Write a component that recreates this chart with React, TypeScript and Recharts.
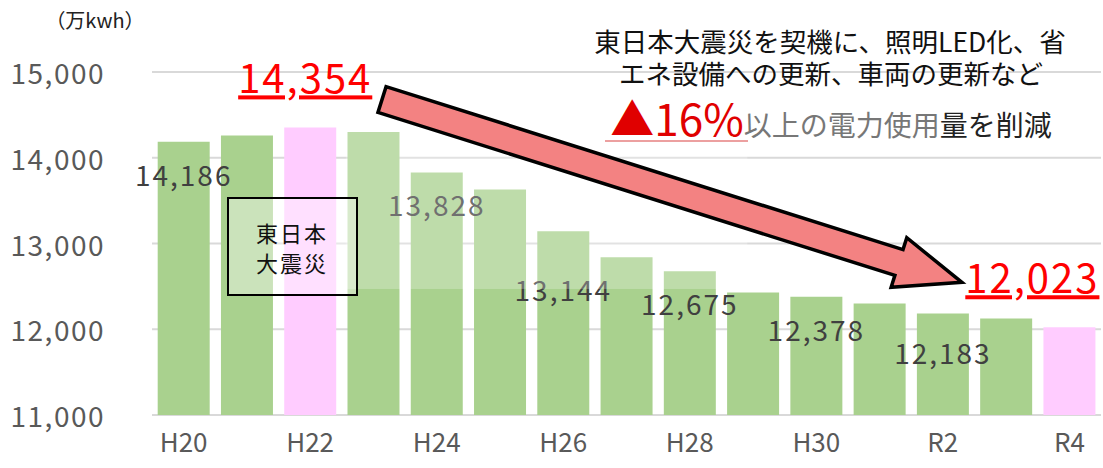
import React from 'react';
import { BarChart, Bar, XAxis, YAxis, CartesianGrid, Cell, LabelList, ReferenceLine, ReferenceArea } from 'recharts';

const categories = ['H20', 'H21', 'H22', 'H23', 'H24', 'H25', 'H26', 'H27', 'H28', 'H29', 'H30', 'R1', 'R2', 'R3', 'R4'];
const usage = [14186, 14260, 14354, 14300, 13828, 13630, 13144, 12840, 12675, 12430, 12378, 12300, 12183, 12125, 12023];
const highlighted = ['H22', 'R4'];
const labeledCats = ['H20', 'H24', 'H26', 'H28', 'H30', 'R2'];
const yTicks = [11000, 12000, 13000, 14000, 15000];
const unitLabel = '（万kwh）';
const noteLine1 = '東日本大震災を契機に、照明LED化、省';
const noteLine2 = 'エネ設備への更新、車両の更新など';
const noteRed = '▲16%';
const noteRestA = '以上の電力使用';
const noteRestB = '量を削減';
const boxLine1 = '東日本';
const boxLine2 = '大震災';

const data = categories.map((c, i) => ({ year: c, value: usage[i] }));

const FONT = '"Noto Sans CJK JP", "Noto Sans", sans-serif';
const GREEN = '#A9D18E';
const PINK = '#FFCCFF';

const fmt = (v: number) => v.toLocaleString('en-US');

const labelDy: Record<string, number> = { H26: 58, R2: 38 };

const ValueLabel = (props: any) => {
  const { x, y, width, index } = props;
  const cat = categories[index];
  const v = usage[index];
  if (labeledCats.includes(cat)) {
    const dy = labelDy[cat] ?? 32;
    return (
      <text x={x + width / 2} y={y + dy} textAnchor="middle" dominantBaseline="central"
        fill="#404040" fontSize={28} letterSpacing={2} fontFamily={FONT}>{fmt(v)}</text>
    );
  }
  if (highlighted.includes(cat)) {
    const isLast = index === categories.length - 1;
    return (
      <text x={isLast ? x + width + 4 : x + width / 2 - 5} y={y - 34}
        textAnchor={isLast ? 'end' : 'middle'} fill="#FF0000" fontSize={40} letterSpacing={2}
        fontFamily={FONT} style={{ textDecoration: 'underline' }}>{fmt(v)}</text>
    );
  }
  return null;
};

const ArrowShape = (props: any) => {
  const { x1, y1, x2, y2 } = props;
  if ([x1, y1, x2, y2].some((n) => typeof n !== 'number' || isNaN(n))) return null;
  const dx = x2 - x1;
  const dy = y2 - y1;
  const len = Math.hypot(dx, dy);
  const ux = dx / len, uy = dy / len;
  const nx = -uy, ny = ux;
  const sx = x1 + ux * 9, sy = y1 + uy * 9;
  const tx = x2 + ux * 20, ty = y2 + uy * 20;
  const hw = 13.5, hh = 26, hl = 66;
  const kx = tx - ux * hl, ky = ty - uy * hl;
  const pts = [
    [sx + nx * hw, sy + ny * hw],
    [kx + nx * hw, ky + ny * hw],
    [kx + nx * hh, ky + ny * hh],
    [tx, ty],
    [kx - nx * hh, ky - ny * hh],
    [kx - nx * hw, ky - ny * hw],
    [sx - nx * hw, sy - ny * hw],
  ].map((p) => p.join(',')).join(' ');
  return <polygon points={pts} fill="#F38282" stroke="#000" strokeWidth={3.5} strokeLinejoin="miter" />;
};

const FadeShape = (props: any) => {
  const { x, y, width, height } = props;
  if ([x, y, width, height].some((n) => typeof n !== 'number' || isNaN(n))) return null;
  return <rect x={x + 4} y={y} width={width + 22} height={height} fill="#FFFFFF" fillOpacity={0.25} />;
};

const YTick = (props: any) => {
  const { x, y, payload } = props;
  return (
    <text x={x} y={y} textAnchor="end" dominantBaseline="central" fill="#595959"
      fontSize={28} letterSpacing={1.5} fontFamily={FONT}>{fmt(payload.value)}</text>
  );
};

const XTick = (props: any) => {
  const { x, y, payload } = props;
  return (
    <text x={x} y={y + 17} textAnchor="middle" dominantBaseline="central" fill="#595959"
      fontSize={26} fontFamily={FONT}>{payload.value}</text>
  );
};

export default function App() {
  return (
    <div style={{ position: 'absolute', left: 0, top: 0, width: 1103, height: 468, background: '#fff', fontFamily: FONT }}>
      <BarChart width={1103} height={468} data={data} margin={{ top: 72, right: 2, bottom: 0, left: 0 }}
        barCategoryGap="9%">
        <CartesianGrid vertical={false} stroke="#D9D9D9" strokeWidth={2} />
        <XAxis dataKey="year" axisLine={false} tickLine={false} interval={1} height={53} tick={<XTick />} />
        <YAxis domain={[11000, 15000]} ticks={yTicks} axisLine={false} tickLine={false} width={152}
          tickMargin={41} tick={<YTick />} allowDataOverflow />
        <Bar dataKey="value" isAnimationActive={false}>
          {data.map((d) => (
            <Cell key={d.year} fill={highlighted.includes(d.year) ? PINK : GREEN} />
          ))}
          <LabelList dataKey="value" content={<ValueLabel />} />
        </Bar>
        <ReferenceArea x1="H23" x2="H28" y1={12470} y2={14330} {...({ zIndex: 2500 } as any)} shape={<FadeShape />} />
        <ReferenceLine segment={[{ x: 'H23', y: 14711 }, { x: 'R2', y: 12617 }]} {...({ zIndex: 2600 } as any)} shape={<ArrowShape />} />
      </BarChart>
      <svg width={1103} height={468} style={{ position: 'absolute', left: 0, top: 0, pointerEvents: 'none' }}>
        <text x={95} y={19} textAnchor="middle" dominantBaseline="central" fontSize={20} fill="#222" fontFamily={FONT}>{unitLabel}</text>
        <rect x={228} y={198} width={129} height={97} fill="#FFFFFF" fillOpacity={0.4} stroke="#000" strokeWidth={2} />
        <text x={292} y={232} textAnchor="middle" dominantBaseline="central" fontSize={22} letterSpacing={2} fill="#111" fontFamily={FONT}>{boxLine1}</text>
        <text x={292} y={262} textAnchor="middle" dominantBaseline="central" fontSize={22} letterSpacing={2} fill="#111" fontFamily={FONT}>{boxLine2}</text>
        <text x={830} y={40} textAnchor="middle" dominantBaseline="central" fontSize={26.5} fill="#111" fontFamily={FONT}>{noteLine1}</text>
        <text x={831} y={72} textAnchor="middle" dominantBaseline="central" fontSize={26.5} fill="#111" fontFamily={FONT}>{noteLine2}</text>
        <text x={831} y={136} textAnchor="middle" fontFamily={FONT}>
          <tspan fontSize={44} fill="#E00000">{noteRed}</tspan>
          <tspan fontSize={28} fill="#777">{noteRestA}</tspan>
          <tspan fontSize={28} fill="#222">{noteRestB}</tspan>
        </text>
        <line x1={605} y1={141} x2={748} y2={141} stroke="#E06060" strokeOpacity={0.6} strokeWidth={2} />
      </svg>
    </div>
  );
}
